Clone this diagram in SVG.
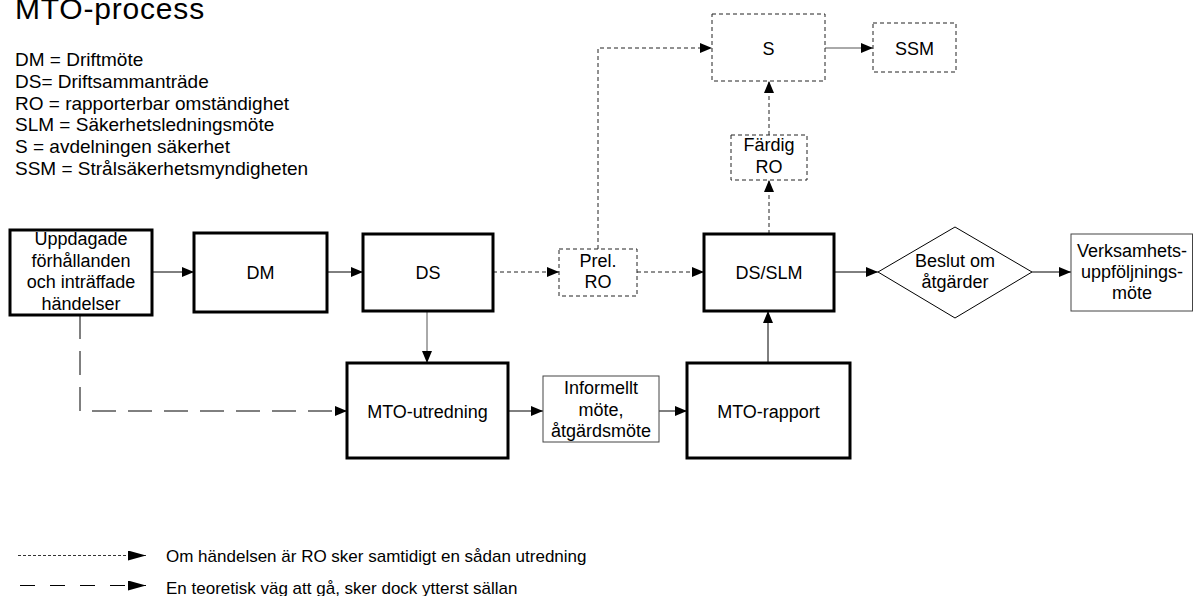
<svg xmlns="http://www.w3.org/2000/svg" width="1193" height="596" viewBox="0 0 1193 596">
<defs>
<style>
text{font-family:"Liberation Sans",Arial,sans-serif;fill:#000}
.t{font-size:18px;text-anchor:middle}
.lg{font-size:19px}
.thick{fill:#fff;stroke:#000;stroke-width:3}
.thin{fill:#fff;stroke:#444;stroke-width:1}
.dbox{fill:#fff;stroke:#222;stroke-width:1;stroke-dasharray:4 3}
.c{fill:none;stroke:#000;stroke-width:1}
.g{stroke:#555}
.d{stroke:#222;stroke-dasharray:4 3}
.ld{stroke-dasharray:24 12}
</style>
<marker id="a" markerUnits="userSpaceOnUse" markerWidth="13" markerHeight="11" refX="12" refY="5" orient="auto">
<path d="M0,0 L12,5 L0,10 z" fill="#000" stroke="none"/>
</marker>
<marker id="b" markerUnits="userSpaceOnUse" markerWidth="19" markerHeight="11" refX="18" refY="5" orient="auto">
<path d="M0,0 L18,5 L0,10 z" fill="#000" stroke="none"/>
</marker>
</defs>
<rect width="1193" height="596" fill="#fff"/>
<text x="15" y="19" style="font-size:30px;letter-spacing:0.8px">MTO-process</text>
<g id="legend-abbr">
<text class="lg" x="15" y="66">DM = Driftmöte</text>
<text class="lg" x="15" y="88">DS= Driftsammanträde</text>
<text class="lg" x="15" y="109.5">RO = rapporterbar omständighet</text>
<text class="lg" x="15" y="131">SLM = Säkerhetsledningsmöte</text>
<text class="lg" x="15" y="153">S = avdelningen säkerhet</text>
<text class="lg" x="15" y="175">SSM = Strålsäkerhetsmyndigheten</text>
</g>
<g id="connectors">
<path class="c" d="M152,272 H194" marker-end="url(#a)"/>
<path class="c" d="M327,272 H363" marker-end="url(#a)"/>
<path class="c d" d="M493,272 H559" marker-end="url(#a)"/>
<path class="c d" d="M637,272 H704" marker-end="url(#a)"/>
<path class="c d" d="M598,249 V48 H712" marker-end="url(#a)"/>
<path class="c d" d="M769,234 V180" marker-end="url(#a)"/>
<path class="c d" d="M769,135 V81" marker-end="url(#a)"/>
<path class="c g" d="M825,48 H873" marker-end="url(#a)"/>
<path class="c" d="M834,272 H878" marker-end="url(#a)"/>
<path class="c" d="M1032,272 H1071" marker-end="url(#a)"/>
<path class="c g" d="M427,311 V363" marker-end="url(#a)"/>
<path class="c ld" d="M80,315 V411 H347" marker-end="url(#a)"/>
<path class="c" d="M508,411 H543" marker-end="url(#a)"/>
<path class="c" d="M659,411 H687" marker-end="url(#a)"/>
<path class="c" d="M768,363 V311" marker-end="url(#a)"/>
</g>
<g id="n-uppdagade">
<rect class="thick" x="10" y="230" width="142" height="85"/>
<text class="t" x="81" y="245">Uppdagade</text>
<text class="t" x="81" y="266.7">förhållanden</text>
<text class="t" x="81" y="288.4">och inträffade</text>
<text class="t" x="81" y="310">händelser</text>
</g>
<g id="n-dm">
<rect class="thick" x="194" y="233" width="133" height="79"/>
<text class="t" x="260.5" y="278.5">DM</text>
</g>
<g id="n-ds">
<rect class="thick" x="363" y="234" width="130" height="77"/>
<text class="t" x="428" y="278.5">DS</text>
</g>
<g id="n-prelro">
<rect class="dbox" x="559" y="249" width="78" height="47"/>
<text class="t" x="598" y="266.7">Prel.</text>
<text class="t" x="598" y="288.4">RO</text>
</g>
<g id="n-dsslm">
<rect class="thick" x="704" y="234" width="130" height="77"/>
<text class="t" x="769" y="278.5">DS/SLM</text>
</g>
<g id="n-beslut">
<polygon points="878,272 955,227 1032,272 955,318" fill="#fff" stroke="#000" stroke-width="1"/>
<text class="t" x="955" y="266.7">Beslut om</text>
<text class="t" x="955" y="288.4">åtgärder</text>
</g>
<g id="n-verksamhet">
<rect class="thin" x="1071" y="234" width="121.5" height="77"/>
<text class="t" x="1132" y="256.7">Verksamhets-</text>
<text class="t" x="1132" y="277.5">uppföljnings-</text>
<text class="t" x="1132" y="298.5">möte</text>
</g>
<g id="n-mtoutredning">
<rect class="thick" x="347" y="363" width="161" height="95"/>
<text class="t" x="427.5" y="417.5">MTO-utredning</text>
</g>
<g id="n-informellt">
<rect class="thin" x="543" y="376" width="116" height="66"/>
<text class="t" x="601" y="393.8">Informellt</text>
<text class="t" x="601" y="415.5">möte,</text>
<text class="t" x="601" y="437.2">åtgärdsmöte</text>
</g>
<g id="n-mtorapport">
<rect class="thick" x="687" y="363" width="163" height="95"/>
<text class="t" x="768.5" y="417.5">MTO-rapport</text>
</g>
<g id="n-s">
<rect class="dbox" x="712" y="14" width="113" height="67"/>
<text class="t" x="768.5" y="54.5">S</text>
</g>
<g id="n-ssm">
<rect class="dbox" x="873" y="23" width="83" height="49"/>
<text class="t" x="914.5" y="54.5">SSM</text>
</g>
<g id="n-fardigro">
<rect class="dbox" x="731" y="135" width="76" height="45"/>
<text class="t" x="769" y="151">Färdig</text>
<text class="t" x="769" y="172.7">RO</text>
</g>
<g id="legend-lines">
<path class="c" d="M18,555.5 H146" style="stroke:#333;stroke-dasharray:3 2" marker-end="url(#b)"/>
<path class="c" d="M20,585.5 H146" style="stroke-dasharray:15 15" marker-end="url(#b)"/>
<text x="166" y="561.5" style="font-size:17px">Om händelsen är RO sker samtidigt en sådan utredning</text>
<text x="166" y="594" style="font-size:17px">En teoretisk väg att gå, sker dock ytterst sällan</text>
</g>
</svg>
